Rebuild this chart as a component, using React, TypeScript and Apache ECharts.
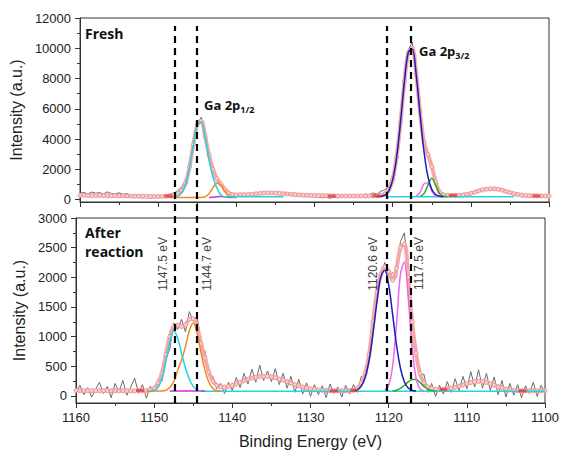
import React, { useEffect, useRef } from "react";
import * as echarts from "echarts";

// energy grid of the measured spectra and the fitted envelopes (eV)
const E_START = 1160;
const E_STEP = 0.5;

// ---------- Fresh ----------
const freshRaw = [
  420, 480, 380, 510, 430, 470, 390, 520, 410, 380,
  460, 350, 400, 300, 250, 180, 120, 200, 90, 150,
  220, 180, 310, 380, 420, 600, 850, 1300, 2200, 3700,
  5000, 5450, 4400, 3000, 2050, 1500, 1150, 680, 420, 300,
  380, 260, 350, 290, 410, 350, 480, 420, 520, 390,
  470, 360, 430, 330, 390, 280, 350, 250, 320, 240,
  210, 170, 130, 150, 100, 170, 120, 200, 150, 230,
  180, 290, 250, 380, 330, 450, 380, 560, 650, 900,
  1500, 2900, 5000, 7900, 9900, 10400, 8400, 5900, 3900, 3000,
  2300, 1250, 560, 380, 250, 320, 200, 280, 230, 350,
  420, 460, 620, 580, 760, 690, 820, 640, 700, 510,
  480, 330, 400, 210, 280, 150, 320, 180, 250, 140,
  260,
];
const freshFit = [
  290, 290, 285, 285, 280, 280, 275, 270, 265, 260,
  255, 250, 245, 240, 235, 230, 225, 220, 215, 215,
  215, 220, 230, 260, 330, 420, 600, 1100, 2150, 3650,
  4950, 5200, 4200, 2950, 2000, 1400, 1050, 700, 450, 350,
  320, 330, 330, 340, 360, 390, 420, 440, 450, 450,
  440, 420, 400, 380, 360, 340, 320, 305, 295, 285,
  280, 275, 270, 265, 260, 255, 250, 250, 245, 245,
  245, 245, 245, 245, 250, 255, 270, 300, 380, 640,
  1350, 2800, 5100, 7800, 9700, 10000, 8350, 5800, 3800, 3000,
  2200, 1200, 520, 320, 290, 290, 290, 300, 320, 360,
  420, 500, 580, 650, 700, 720, 720, 690, 630, 550,
  470, 400, 340, 300, 280, 265, 260, 255, 250, 250,
  250,
];
const freshCyan = [
  [1148, 160], [1147.5, 224], [1147, 433], [1146.5, 1000], [1146, 2100], [1145.5, 3620],
  [1145, 4940], [1144.5, 5140], [1144, 4150], [1143.5, 2680], [1143, 1500], [1142.5, 800],
  [1142, 330], [1141.5, 200], [1141, 190],
];
const freshCyanTail = [[1141, 190], [1134, 190]];
const freshOrange = [
  [1148.5, 150], [1144.5, 152], [1144, 200], [1143.5, 400], [1143, 780], [1142.5, 1100],
  [1142, 980], [1141.5, 560], [1141, 260], [1140.5, 165], [1140, 150],
];
const freshMagenta = [
  [1143.5, 150], [1143, 165], [1142.5, 195], [1142, 210], [1141.5, 190], [1141, 160], [1140.5, 150],
];
const freshBlue = [
  [1122, 205], [1121.5, 225], [1121, 310], [1120.5, 590], [1120, 1310], [1119.5, 2790],
  [1119, 5120], [1118.5, 7800], [1118, 9740], [1117.5, 9940], [1117, 8290], [1116.5, 5660],
  [1116, 3200], [1115.5, 1540], [1115, 690], [1114.5, 345], [1114, 235], [1113.5, 205],
];
const freshViolet = [
  [1117, 234], [1116.5, 478], [1116, 1035], [1115.5, 1123], [1115, 575], [1114.5, 256], [1114, 205],
];
const freshGreen = [
  [1116.5, 220], [1116, 400], [1115.5, 950], [1115, 1420], [1114.5, 950], [1114, 400],
  [1113.5, 220], [1113, 205],
];
const freshBase = [[1120.6, 200], [1104.5, 200]];
const freshAnchors = [[1148.7, 240], [1127.8, 240], [1122.1, 260], [1112.3, 280], [1101.6, 250]];

// ---------- After reaction ----------
const afterRaw = [
  60, 180, 20, 140, -20, 110, 230, 40, 160, -30,
  210, 70, 260, 10, 150, 300, 40, 190, -40, 160,
  80, 280, 250, 620, 790, 1230, 1120, 1290, 1080, 1420,
  1260, 1350, 830, 760, 350, 330, 120, 210, 40, 230,
  90, 310, 140, 380, 200, 450, 230, 520, 260, 420,
  240, 460, 190, 380, 130, 330, 60, 280, 30, 220,
  -10, 190, 20, 170, -30, 200, 40, 150, -20, 180,
  30, 190, 60, 330, 290, 780, 1100, 1850, 1980, 2250,
  2020, 2080, 2000, 2600, 2750, 2150, 1180, 820, 330, 370,
  60, 210, -10, 180, 30, 240, 60, 290, 90, 330,
  120, 410, 150, 440, 130, 380, 90, 320, 20, 260,
  -20, 210, 10, 190, -30, 170, 40, 230, -10, 180,
  60,
];
const afterFit = [
  90, 90, 88, 88, 87, 87, 86, 86, 85, 85,
  85, 85, 85, 85, 85, 85, 85, 85, 90, 100,
  130, 220, 380, 700, 1000, 1170, 1190, 1170, 1200, 1290,
  1300, 1160, 880, 640, 400, 250, 180, 150, 150, 160,
  180, 200, 230, 255, 280, 300, 315, 325, 330, 330,
  320, 305, 285, 265, 240, 215, 190, 170, 150, 135,
  120, 110, 100, 95, 90, 88, 85, 85, 85, 85,
  88, 95, 130, 220, 380, 700, 1250, 1750, 2050, 2180,
  2100, 1950, 2150, 2500, 2560, 2000, 1250, 720, 380, 220,
  150, 120, 110, 105, 110, 120, 130, 145, 165, 185,
  205, 225, 240, 245, 240, 225, 205, 180, 155, 135,
  115, 100, 92, 88, 85, 85, 85, 85, 85, 85,
  85,
];
const afterCyan = [
  [1150.5, 80], [1150, 90], [1149.5, 140], [1149, 300], [1148.5, 580], [1148, 900],
  [1147.5, 1100], [1147, 980], [1146.5, 720], [1146, 470], [1145.5, 280], [1145, 160],
  [1144.5, 100], [1144, 82],
];
const afterBase = [[1144, 80], [1100, 80]];
const afterOrange = [
  [1151, 80], [1149, 82], [1148.5, 95], [1148, 140], [1147.5, 240], [1147, 430],
  [1146.5, 600], [1146, 830], [1145.5, 1100], [1145, 1230], [1144.5, 1050], [1144, 720],
  [1143.5, 430], [1143, 230], [1142.5, 130], [1142, 90], [1141.5, 80],
];
const afterMagentaL = [[1148, 84], [1143.5, 84]];
const afterBlue = [
  [1124.5, 87], [1124, 106], [1123.5, 166], [1123, 314], [1122.5, 605], [1122, 1058],
  [1121.5, 1590], [1121, 2010], [1120.5, 2120], [1120, 1870], [1119.5, 1380], [1119, 860],
  [1118.5, 470], [1118, 240], [1117.5, 135], [1117, 95], [1116.5, 84],
];
const afterMagenta = [
  [1120.5, 95], [1120, 180], [1119.5, 500], [1119, 1200], [1118.5, 2050], [1118, 2260],
  [1117.5, 1650], [1117, 820], [1116.5, 300], [1116, 120], [1115.5, 85],
];
const afterGreen = [
  [1119.5, 82], [1119, 95], [1118.5, 125], [1118, 175], [1117.5, 235], [1117, 275],
  [1116.5, 275], [1116, 225], [1115.5, 160], [1115, 115], [1114.5, 90], [1114, 82],
];
const afterAnchors = [[1151.8, 90], [1127.0, 85], [1124.4, 95], [1113.0, 110], [1102.9, 85]];

// ---------- axes / annotations ----------
const peakPositions = [1147.5, 1144.7, 1120.6, 1117.5];
const peakLabelSide = ["insideEndTop", "insideEndBottom", "insideEndTop", "insideEndBottom"];
const freshTicks = [0, 2000, 4000, 6000, 8000, 10000, 12000];
const freshMinor = [1000, 3000, 5000, 7000, 9000, 11000];
const afterTicks = [0, 500, 1000, 1500, 2000, 2500, 3000];
const afterMinor = [250, 750, 1250, 1750, 2250, 2750];

const toPairs = (vals: number[]) => vals.map((v, i) => [E_START - i * E_STEP, v]);

const AXIS_COLOR = "#333";
const FONT = '"Liberation Sans", Arial, sans-serif';
const plain = (v: number) => String(v);

function comp(data: number[][], color: string, xi: number, yi: number, smooth = 0.35) {
  return {
    type: "line",
    data,
    xAxisIndex: xi,
    yAxisIndex: yi,
    symbol: "none",
    smooth,
    silent: true,
    lineStyle: { color, width: 1.5 },
    z: 4,
  };
}
function raw(data: number[][], xi: number, yi: number) {
  return {
    type: "line",
    data,
    xAxisIndex: xi,
    yAxisIndex: yi,
    symbol: "none",
    silent: true,
    lineStyle: { color: "#6b6b6b", width: 1 },
    z: 2,
  };
}
function fit(data: number[][], xi: number, yi: number) {
  return {
    type: "line",
    data,
    xAxisIndex: xi,
    yAxisIndex: yi,
    symbol: "circle",
    symbolSize: 4,
    showSymbol: true,
    smooth: 0.35,
    silent: true,
    lineStyle: { color: "#f4a8a8", width: 4 },
    itemStyle: { color: "#f9cccc", borderColor: "#e88a8a", borderWidth: 0.8 },
    z: 3,
  };
}
function anchors(data: number[][], xi: number, yi: number) {
  return {
    type: "scatter",
    data,
    xAxisIndex: xi,
    yAxisIndex: yi,
    symbol: "rect",
    symbolSize: [8, 3],
    silent: true,
    itemStyle: { color: "#e63a3a" },
    z: 5,
  };
}

function xAxisFor(gridIndex: number, showLabels: boolean, name = "") {
  return {
    type: "value",
    gridIndex,
    min: 1100,
    max: 1160,
    interval: 10,
    inverse: true,
    name,
    nameLocation: "middle",
    nameGap: 30,
    nameTextStyle: { fontSize: 16, color: "#222", fontFamily: FONT },
    axisLine: { show: true, onZero: false, lineStyle: { color: AXIS_COLOR, width: 1 } },
    axisTick: { show: true, inside: false, length: 5, lineStyle: { color: AXIS_COLOR } },
    minorTick: { show: true, splitNumber: 2, length: 3, lineStyle: { color: AXIS_COLOR } },
    axisLabel: { show: showLabels, formatter: plain, fontSize: 13, color: "#222", margin: 8, fontFamily: FONT },
    splitLine: { show: false },
  };
}
function yMain(gridIndex: number, min: number, max: number, ticks: number[]) {
  return {
    type: "value",
    gridIndex,
    min,
    max,
    position: "left",
    name: "Intensity (a.u.)",
    nameLocation: "middle",
    nameGap: 45,
    nameTextStyle: { fontSize: 16, color: "#222", fontFamily: FONT },
    axisLine: { show: true, onZero: false, lineStyle: { color: AXIS_COLOR, width: 1 } },
    axisTick: { show: true, length: 5, customValues: ticks, lineStyle: { color: AXIS_COLOR } },
    axisLabel: { show: true, customValues: ticks, formatter: plain, fontSize: 13, color: "#222", margin: 9, fontFamily: FONT },
    splitLine: { show: false },
  };
}
function yMinor(gridIndex: number, min: number, max: number, ticks: number[]) {
  return {
    type: "value",
    gridIndex,
    min,
    max,
    position: "left",
    offset: 0,
    axisLine: { show: false },
    axisTick: { show: true, length: 3, customValues: ticks, lineStyle: { color: AXIS_COLOR } },
    axisLabel: { show: false },
    splitLine: { show: false },
  };
}

export default function App() {
  const ref = useRef<HTMLDivElement>(null);
  useEffect(() => {
    document.body.style.margin = "0";
    if (!ref.current) return;
    const chart = echarts.init(ref.current, undefined, { renderer: "svg" });
    const option: any = {
      animation: false,
      backgroundColor: "#fff",
      textStyle: { fontFamily: FONT },
      grid: [
        { left: 76, right: 13, top: 18, height: 184, show: true, borderColor: AXIS_COLOR, borderWidth: 1, backgroundColor: "transparent" },
        { left: 76, right: 13, top: 218, height: 185, show: true, borderColor: AXIS_COLOR, borderWidth: 1, backgroundColor: "transparent" },
        { left: 76, right: 13, top: 26, height: 377, show: false },
      ],
      xAxis: [
        xAxisFor(0, false),
        xAxisFor(1, true, "Binding Energy (eV)"),
        { type: "value", gridIndex: 2, min: 1100, max: 1160, inverse: true, show: false },
      ],
      yAxis: [
        yMain(0, -150, 12000, freshTicks),
        yMinor(0, -150, 12000, freshMinor),
        yMain(1, -120, 3000, afterTicks),
        yMinor(1, -120, 3000, afterMinor),
        { type: "value", gridIndex: 2, min: 0, max: 1, show: false },
      ],
      series: [
        raw(toPairs(freshRaw), 0, 0),
        fit(toPairs(freshFit), 0, 0),
        comp(freshOrange, "#f28a1c", 0, 0),
        comp(freshMagenta, "#d52fd5", 0, 0),
        comp(freshCyan, "#22d3e2", 0, 0),
        comp(freshCyanTail, "#22d3e2", 0, 0, 0),
        comp(freshBase, "#22d3e2", 0, 0, 0),
        comp(freshViolet, "#ee70ee", 0, 0),
        comp(freshGreen, "#22b022", 0, 0),
        comp(freshBlue, "#1c1cc0", 0, 0),
        anchors(freshAnchors, 0, 0),

        raw(toPairs(afterRaw), 1, 2),
        fit(toPairs(afterFit), 1, 2),
        comp(afterBase, "#22d3e2", 1, 2, 0),
        comp(afterMagentaL, "#d52fd5", 1, 2, 0),
        comp(afterOrange, "#f28a1c", 1, 2),
        comp(afterCyan, "#22d3e2", 1, 2),
        comp(afterGreen, "#22b022", 1, 2),
        comp(afterMagenta, "#ee66ee", 1, 2),
        comp(afterBlue, "#1c1cc0", 1, 2),
        anchors(afterAnchors, 1, 2),
        {
          type: "line",
          xAxisIndex: 1,
          yAxisIndex: 2,
          data: [],
          silent: true,
          markLine: {
            silent: true,
            symbol: ["none", "none"],
            lineStyle: { color: "transparent", width: 0 },
            data: peakPositions.map((v, i) => ({
              xAxis: v,
              label: {
                show: true,
                position: peakLabelSide[i],
                distance: [19, 5],
                formatter: `${v.toFixed(1)} eV`,
                fontSize: 12,
                color: "#444",
                fontFamily: FONT,
              },
            })),
          },
        },
        {
          type: "line",
          xAxisIndex: 2,
          yAxisIndex: 4,
          data: [],
          silent: true,
          z: 6,
          markLine: {
            silent: true,
            symbol: ["none", "none"],
            label: { show: false },
            lineStyle: { color: "#000", width: 2.2, type: [7, 5] },
            data: peakPositions.map((v) => ({ xAxis: v })),
          },
        },
      ],
      graphic: [
        {
          type: "text",
          left: 85,
          top: 26,
          style: { text: "Fresh", font: 'bold 14px "Open Sans"', fill: "#111" },
        },
        {
          type: "text",
          left: 85,
          top: 223,
          style: { text: "After\nreaction", font: 'bold 14px "Open Sans"', lineHeight: 19, fill: "#111" },
        },
        {
          type: "text",
          left: 204,
          top: 98,
          style: {
            text: "{a|Ga 2p}{b|1/2}",
            rich: {
              a: { font: 'bold 13px "Open Sans"', fill: "#111", lineHeight: 18 },
              b: { font: 'bold 9px "Open Sans"', fill: "#111", lineHeight: 9, verticalAlign: "bottom" },
            },
          },
        },
        {
          type: "text",
          left: 419,
          top: 44,
          style: {
            text: "{a|Ga 2p}{b|3/2}",
            rich: {
              a: { font: 'bold 13px "Open Sans"', fill: "#111", lineHeight: 18 },
              b: { font: 'bold 9px "Open Sans"', fill: "#111", lineHeight: 9, verticalAlign: "bottom" },
            },
          },
        },
      ],
    };
    chart.setOption(option);
    return () => chart.dispose();
  }, []);
  return (
    <div
      ref={ref}
      style={{ position: "fixed", left: 0, top: 0, width: 562, height: 450, background: "#fff" }}
    />
  );
}
